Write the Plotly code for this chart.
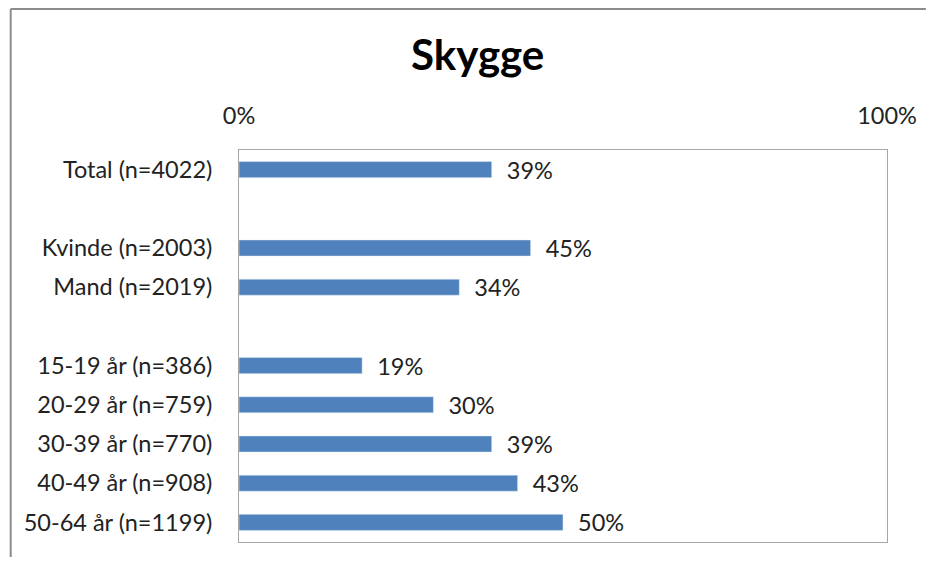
import plotly.graph_objects as go

# blank rows are spacers between the groups
categories = ["Total (n=4022)", " ", "Kvinde (n=2003)", "Mand (n=2019)", "  ",
              "15-19 år (n=386)", "20-29 år (n=759)", "30-39 år (n=770)",
              "40-49 år (n=908)", "50-64 år (n=1199)"]
values = [39, None, 45, 34, None, 19, 30, 39, 43, 50]
tick_vals = [0, 100]
tick_text = ["0%", "100%"]

labels = [f"  {v}%" if v is not None else "" for v in values]

fig = go.Figure(
    go.Bar(
        y=categories,
        x=values,
        orientation="h",
        width=0.41,
        marker_color="#4F81BD",
        text=labels,
        textposition="outside",
        constraintext="none",
        textfont=dict(size=23.5, color="#222222"),
        cliponaxis=False,
    )
)

# page body has an 8px margin, so the figure is sized to fit inside it
fig.update_layout(
    width=921,
    height=549,
    margin={"l": 231, "r": 37, "t": 142, "b": 15},
    paper_bgcolor="white",
    plot_bgcolor="white",
    font=dict(family="Lato, Noto Sans, sans-serif", size=23.5, color="#222222"),
    title=dict(
        text="<b>Skygge</b>",
        x=0.51,
        xanchor="center",
        y=0.914,
        yanchor="middle",
        font=dict(size=42, color="#000000"),
    ),
    showlegend=False,
)
fig.update_xaxes(
    range=[0, 100],
    side="top",
    tickvals=tick_vals,
    ticktext=tick_text,
    showgrid=False,
    zeroline=False,
    showline=True,
    linecolor="#A6A6A6",
    linewidth=1,
    mirror=True,
    ticks="",
    ticklabelstandoff=16,
)
fig.update_yaxes(
    categoryorder="array",
    categoryarray=categories,
    autorange="reversed",
    showgrid=False,
    showline=True,
    linecolor="#A6A6A6",
    linewidth=1,
    mirror=True,
    ticks="",
    ticklabelstandoff=21,
)

# outer frame of the chart area (top and left edges)
frame = dict(type="line", xref="paper", yref="paper", line=dict(color="#8C8C8C", width=2))
fig.add_shape(x0=-0.3523, x1=1.06, y0=1.3597, y1=1.3597, **frame)
fig.add_shape(x0=-0.3523, x1=-0.3523, y0=1.3597, y1=-0.038, **frame)

fig.write_html("out.html")
